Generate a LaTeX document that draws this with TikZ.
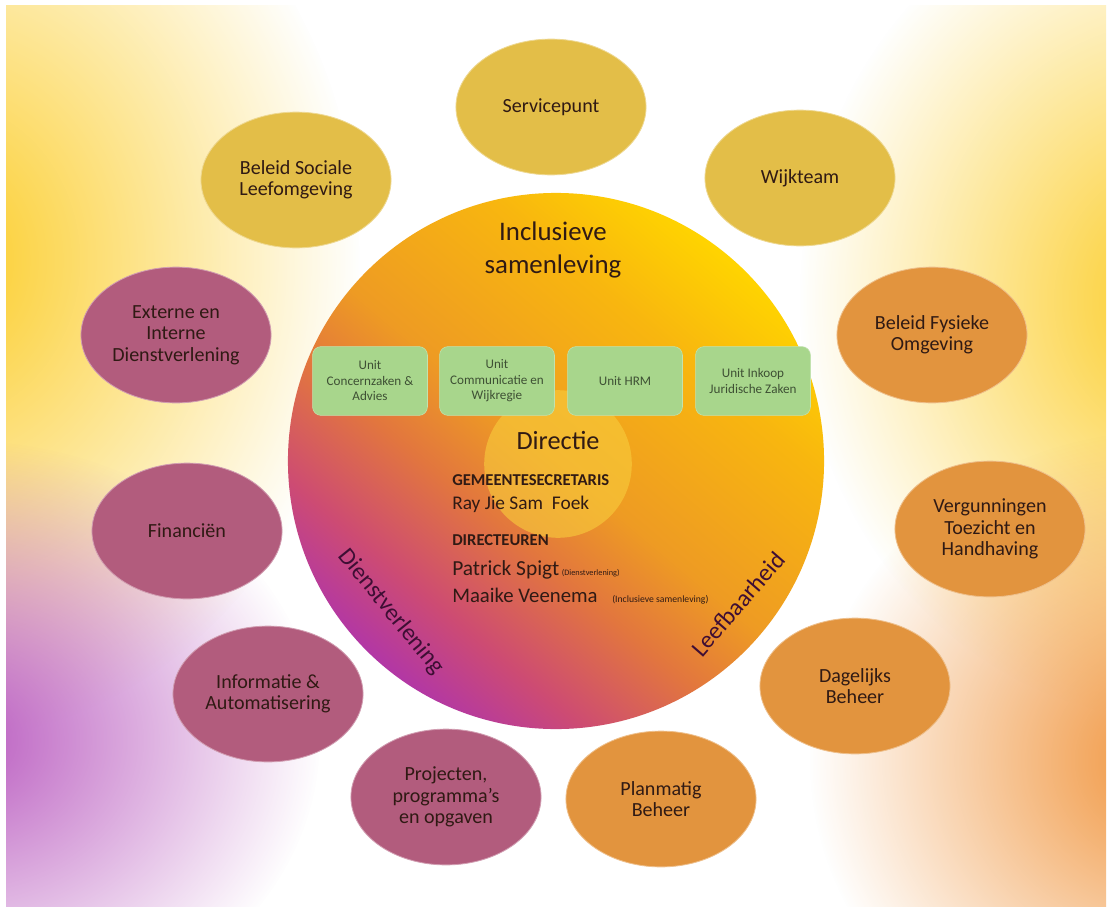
\documentclass[tikz,border=0pt]{standalone}
\usepackage{fontspec}
\setmainfont{Carlito}
\usetikzlibrary{shapes.geometric,fadings}

\definecolor{goldfill}{RGB}{227,190,72}
\definecolor{mauvefill}{RGB}{178,92,125}
\definecolor{orangefill}{RGB}{226,148,62}
\definecolor{unitgreen}{RGB}{168,214,140}
\definecolor{unittext}{RGB}{62,80,52}
\definecolor{inktext}{RGB}{48,26,20}
\definecolor{sidetext}{RGB}{62,14,52}
\definecolor{glowyellow}{RGB}{252,204,36}
\definecolor{glowpurple}{RGB}{186,92,192}
\definecolor{gloworange}{RGB}{240,146,56}
\definecolor{circpurple}{RGB}{178,55,165}
\definecolor{circpink}{RGB}{205,75,115}
\definecolor{circred}{RGB}{226,118,62}
\definecolor{circorange}{RGB}{238,155,35}
\definecolor{circamber}{RGB}{248,182,15}
\definecolor{circyellow}{RGB}{255,212,0}
\definecolor{kerncolor}{RGB}{248,204,60}

\pgfdeclareverticalshading{ringshade}{100bp}{color(0bp)=(circpurple); color(25bp)=(circpurple); color(32.5bp)=(circpink); color(42bp)=(circred); color(50bp)=(circorange); color(65bp)=(circamber); color(75bp)=(circyellow); color(100bp)=(circyellow)}

\tikzfading[name=glowfade, inner color=transparent!0, outer color=transparent!100]

\begin{document}
\begin{tikzpicture}[x=0.0254cm, y=-0.0254cm,
    every node/.style={text=inktext, align=center, font=\fontsize{14.5}{15.5}\selectfont},
    bubble/.style={ellipse, minimum width=4.83cm, minimum height=3.45cm, inner sep=0pt, line width=0.6pt},
    goldbubble/.style={bubble, fill=goldfill, draw=goldfill!60!white},
    mauvebubble/.style={bubble, fill=mauvefill, draw=mauvefill!60!white},
    orangebubble/.style={bubble, fill=orangefill, draw=orangefill!60!white},
    unitbox/.style={rectangle, rounded corners=0.22cm, fill=unitgreen, draw=unitgreen!70!white,
        minimum width=2.92cm, minimum height=1.75cm, inner sep=1pt, text=unittext,
        font=\fontsize{9.5}{11.2}\selectfont},
    staff/.style={anchor=base west, inner sep=0pt},
    tiny/.style={anchor=base west, inner sep=0pt, font=\fontsize{6}{7}\selectfont}]
    \useasboundingbox (0,0) rectangle (1112,910);
    \fill[white] (0,0) rectangle (1112,910);

    % Background glow
    \begin{scope}
        \clip (6,5) rectangle (1106,906);
        \fill[glowyellow, path fading=glowfade] (-60,260) ellipse (420 and 480);
        \fill[glowyellow, path fading=glowfade] (1180,300) ellipse (380 and 420);
        \fill[glowpurple, path fading=glowfade] (-40,740) ellipse (360 and 300);
        \fill[gloworange, path fading=glowfade] (1170,760) ellipse (360 and 330);
    \end{scope}

    % Centre
    \node[circle, minimum size=13.62cm, inner sep=0pt, shading=ringshade, shading angle=-40] (ring) at (556,461) {};
    \node[circle, minimum size=3.75cm, inner sep=0pt, fill=kerncolor, fill opacity=0.62] (kern) at (558,464) {};

    \node[font=\fontsize{19.4}{23.5}\selectfont] (inclusief) at (553,250) {Inclusieve\\samenleving};
    \node[font=\fontsize{19}{22}\selectfont] (directie) at (558,441) {Directie};
    \node[staff, font=\bfseries\fontsize{12}{14}\selectfont] (secretaris) at (452,485) {GEMEENTESECRETARIS};
    \node[staff, font=\fontsize{14}{16}\selectfont] (ray) at (452,509) {Ray Jie Sam\ \ Foek};
    \node[staff, font=\bfseries\fontsize{12}{14}\selectfont] (directeuren) at (452,545) {DIRECTEUREN};
    \node[staff, font=\fontsize{15.5}{18}\selectfont] (patrick) at (452,575) {Patrick Spigt};
    \node[tiny] (patricknote) at ([xshift=1.5pt]patrick.base east) {(Dienstverlening)};
    \node[staff, font=\fontsize{15}{17}\selectfont] (maaike) at (452,602) {Maaike Veenema};
    \node[tiny, font=\fontsize{7}{8}\selectfont] (maaikenote) at (612,602) {(Inclusieve samenleving)};

    \node[text=sidetext, rotate=-51, font=\fontsize{17.5}{20}\selectfont] (dienst) at (391,612) {Dienstverlening};
    \node[text=sidetext, rotate=49, font=\fontsize{17.5}{20}\selectfont] (leef) at (738,604) {Leefbaarheid};

    % Units
    \node[unitbox] (concern) at (370,381) {Unit\\Concernzaken \&\\Advies};
    \node[unitbox] (communicatie) at (497,381) {Unit\\Communicatie en\\Wijkregie};
    \node[unitbox] (hrm) at (625,381) {Unit HRM};
    \node[unitbox] (inkoop) at (753,381) {Unit Inkoop\\Juridische Zaken};

    % Nodes
    \node[goldbubble] (servicepunt) at (551,107) {Servicepunt};
    \node[goldbubble] (wijkteam) at (800,178) {Wijkteam};
    \node[goldbubble] (sociaal) at (296,180) {Beleid Sociale\\Leefomgeving};
    \node[mauvebubble] (extern) at (176,335) {Externe en\\Interne\\Dienstverlening};
    \node[orangebubble] (fysiek) at (932,335) {Beleid Fysieke\\Omgeving};
    \node[mauvebubble] (financien) at (187,531) {Financiën};
    \node[orangebubble] (vergunning) at (990,529) {Vergunningen\\Toezicht en\\Handhaving};
    \node[mauvebubble] (informatie) at (268,694) {Informatie \&\\Automatisering};
    \node[orangebubble] (dagelijks) at (855,686) {Dagelijks\\Beheer};
    \node[mauvebubble] (projecten) at (446,797) {Projecten,\\programma’s\\en opgaven};
    \node[orangebubble] (planmatig) at (661,799) {Planmatig\\Beheer};
\end{tikzpicture}
\end{document}
